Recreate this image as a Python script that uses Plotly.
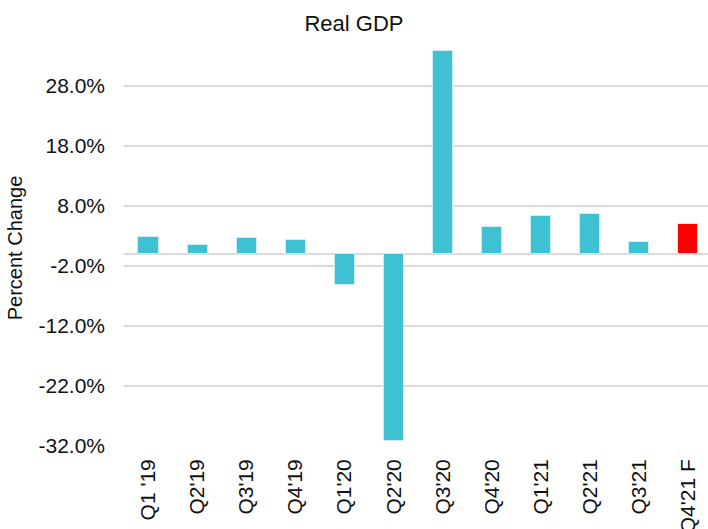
import plotly.graph_objects as go

categories = ["Q1 '19", "Q2'19", "Q3'19", "Q4'19", "Q1'20", "Q2'20",
              "Q3'20", "Q4'20", "Q1'21", "Q2'21", "Q3'21", "Q4'21 F"]
values = [2.9, 1.5, 2.6, 2.4, -5.1, -31.2, 33.8, 4.5, 6.3, 6.7, 2.0, 5.0]
colors = ["#3EC1D3"] * 11 + ["#FF0000"]
y_ticks = [-32, -22, -12, -2, 8, 18, 28]

fig = go.Figure(go.Bar(
    x=categories, y=values, marker_color=colors,
    marker_line=dict(color="#CDEFF4", width=1), width=0.41,
))

fig.update_layout(
    width=708, height=529,
    margin=dict(l=124, r=0, t=50, b=83),
    paper_bgcolor="white", plot_bgcolor="white",
    font=dict(family="Liberation Sans, Arial", size=21, color="#111111"),
    title=dict(text="Real GDP", x=0.5, xanchor="center", y=0.956, yanchor="middle",
               font=dict(size=22)),
    showlegend=False,
    bargap=0,
)
fig.update_xaxes(range=[-0.5, 11.41], tickangle=-90, showgrid=False,
                 ticks="", fixedrange=True, ticklabelstandoff=8, automargin=False)
fig.update_yaxes(range=[-32, 34], tickvals=y_ticks,
                 ticktext=[f"{v:.1f}%" for v in y_ticks],
                 showgrid=True, gridcolor="#DADADA", gridwidth=1.8,
                 zeroline=True, zerolinecolor="#DADADA", zerolinewidth=1.8,
                 title=dict(text="Percent Change", standoff=10, font=dict(size=20)),
                 ticks="", ticklabelstandoff=18, automargin=False)
fig.write_html("out.html")
